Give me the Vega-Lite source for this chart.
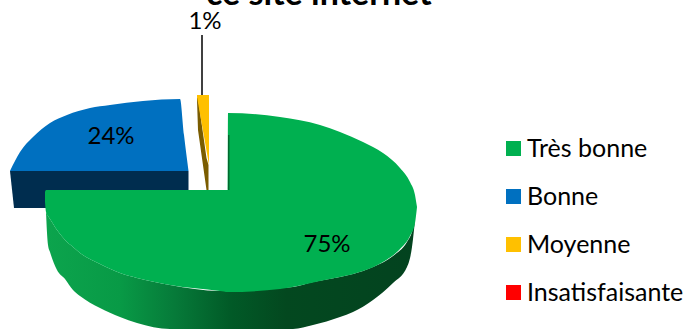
{
  "$schema": "https://vega.github.io/schema/vega-lite/v6.json",
  "width": 686,
  "height": 329,
  "autosize": "none",
  "padding": 0,
  "background": "white",
  "config": {"view": {"stroke": null}, "font": "Lato"},
  "datasets": {
    "heading": [
      {"label": "ce site internet", "x": -22, "y": 185}
    ],
    "slices": [
      {"slice": "Très bonne", "share": 0.75, "x": 99, "y": -55},
      {"slice": "Bonne", "share": 0.24, "x": -117, "y": 53},
      {"slice": "Moyenne", "share": 0.01, "x": -23, "y": 168},
      {"slice": "Insatisfaisante", "share": 0}
    ],
    "tops": [
      {"slice": "Bonne", "x": -218, "y": 19, "y2": 19},
      {"slice": "Bonne", "x": -208, "y": 38, "y2": 19},
      {"slice": "Bonne", "x": -195, "y": 53, "y2": 19},
      {"slice": "Bonne", "x": -178, "y": 67, "y2": 19},
      {"slice": "Bonne", "x": -161, "y": 75, "y2": 19},
      {"slice": "Bonne", "x": -138, "y": 82, "y2": 19},
      {"slice": "Bonne", "x": -118, "y": 85, "y2": 19},
      {"slice": "Bonne", "x": -85, "y": 89, "y2": 19},
      {"slice": "Bonne", "x": -48, "y": 91, "y2": 19},
      {"slice": "Bonne", "x": -44, "y": 55, "y2": 19},
      {"slice": "Bonne", "x": -39.5, "y": 19, "y2": 19},
      {"slice": "Moyenne", "x": -31, "y": 95, "y2": 93},
      {"slice": "Moyenne", "x": -19, "y": 95, "y2": 25},
      {"slice": "Très bonne", "x": -183, "y": -2, "y2": -12},
      {"slice": "Très bonne", "x": -182, "y": 0, "y2": -22},
      {"slice": "Très bonne", "x": -180, "y": 0, "y2": -26},
      {"slice": "Très bonne", "x": -178, "y": 0, "y2": -29},
      {"slice": "Très bonne", "x": -171, "y": 0, "y2": -40},
      {"slice": "Très bonne", "x": -163, "y": 0, "y2": -50},
      {"slice": "Très bonne", "x": -155, "y": 0, "y2": -57},
      {"slice": "Très bonne", "x": -148, "y": 0, "y2": -63},
      {"slice": "Très bonne", "x": -128, "y": 0, "y2": -74},
      {"slice": "Très bonne", "x": -108, "y": 0, "y2": -83},
      {"slice": "Très bonne", "x": -91, "y": 0, "y2": -88},
      {"slice": "Très bonne", "x": -58, "y": 0, "y2": -95},
      {"slice": "Très bonne", "x": -8, "y": 0, "y2": -101},
      {"slice": "Très bonne", "x": -0.1, "y": 0, "y2": -102},
      {"slice": "Très bonne", "x": 0, "y": 77, "y2": -102},
      {"slice": "Très bonne", "x": 52, "y": 73, "y2": -99},
      {"slice": "Très bonne", "x": 92, "y": 65, "y2": -91},
      {"slice": "Très bonne", "x": 112, "y": 58, "y2": -87},
      {"slice": "Très bonne", "x": 135, "y": 48, "y2": -81},
      {"slice": "Très bonne", "x": 155, "y": 37, "y2": -72},
      {"slice": "Très bonne", "x": 172, "y": 22, "y2": -59},
      {"slice": "Très bonne", "x": 182, "y": 8, "y2": -46},
      {"slice": "Très bonne", "x": 187, "y": -5, "y2": -33},
      {"slice": "Très bonne", "x": 189, "y": -17, "y2": -17}
    ],
    "walls": [
      {"part": "Bonne", "x": -218, "y": 19, "y2": 19},
      {"part": "Bonne", "x": -214, "y": 19, "y2": -18},
      {"part": "Bonne", "x": -39.5, "y": 19, "y2": -18},
      {"part": "Moyenne", "x": -31, "y": 93, "y2": 90},
      {"part": "Moyenne", "x": -30, "y": 92, "y2": 60},
      {"part": "Moyenne", "x": -21.5, "y": 32, "y2": 0},
      {"part": "Moyenne", "x": -19.5, "y": 25, "y2": 0},
      {"part": "Très bonne", "x": -182, "y": -22, "y2": -22},
      {"part": "Très bonne", "x": -180, "y": -26, "y2": -55},
      {"part": "Très bonne", "x": -178, "y": -29, "y2": -62},
      {"part": "Très bonne", "x": -171, "y": -40, "y2": -80},
      {"part": "Très bonne", "x": -163, "y": -50, "y2": -89},
      {"part": "Très bonne", "x": -155, "y": -57, "y2": -100},
      {"part": "Très bonne", "x": -148, "y": -63, "y2": -106},
      {"part": "Très bonne", "x": -128, "y": -74, "y2": -118},
      {"part": "Très bonne", "x": -108, "y": -83, "y2": -127},
      {"part": "Très bonne", "x": -91, "y": -88, "y2": -133},
      {"part": "Très bonne", "x": -58, "y": -95, "y2": -139},
      {"part": "Très bonne", "x": -8, "y": -101, "y2": -139},
      {"part": "Très bonne", "x": 65, "y": -97, "y2": -139},
      {"part": "Très bonne", "x": 85, "y": -92, "y2": -135},
      {"part": "Très bonne", "x": 112, "y": -87, "y2": -127},
      {"part": "Très bonne", "x": 125, "y": -84, "y2": -122},
      {"part": "Très bonne", "x": 145, "y": -77, "y2": -110},
      {"part": "Très bonne", "x": 165, "y": -66, "y2": -93},
      {"part": "Très bonne", "x": 179, "y": -52, "y2": -77},
      {"part": "Très bonne", "x": 184, "y": -42, "y2": -57},
      {"part": "Très bonne", "x": 187, "y": -30, "y2": -30}
    ],
    "lines": [
      {"part": "leader", "x": -26, "y": 155},
      {"part": "leader", "x": -26, "y": 95},
      {"part": "edge", "x": 0.8, "y": 55},
      {"part": "edge", "x": 0.8, "y": 0}
    ]
  },
  "encoding": {
    "x": {"field": "x", "type": "quantitative", "axis": null, "scale": {"domain": [-228, 458], "nice": false, "zero": false}},
    "y": {"field": "y", "type": "quantitative", "axis": null, "stack": null, "scale": {"domain": [-139, 190], "nice": false, "zero": false}}
  },
  "layer": [
    {
      "data": {"name": "heading"},
      "mark": {"type": "text", "font": "Lato", "fontSize": 34, "fontWeight": "bold", "color": "black", "align": "left", "baseline": "alphabetic"},
      "encoding": {"text": {"field": "label"}}
    },
    {
      "data": {"name": "walls"},
      "transform": [{"filter": "datum.part === 'Bonne'"}],
      "mark": {"type": "area", "color": "#002D4F"},
      "encoding": {"y2": {"field": "y2"}}
    },
    {
      "data": {"name": "walls"},
      "transform": [{"filter": "datum.part === 'Moyenne'"}],
      "mark": {"type": "area", "color": "#7A5C00"},
      "encoding": {"y2": {"field": "y2"}}
    },
    {
      "data": {"name": "walls"},
      "transform": [{"filter": "datum.part === 'Très bonne'"}],
      "mark": {
        "type": "area",
        "interpolate": "monotone",
        "color": {
          "gradient": "linear",
          "x1": 0, "x2": 1, "y1": 0, "y2": 0,
          "stops": [
            {"offset": 0, "color": "#0CA44D"},
            {"offset": 0.2, "color": "#089A46"},
            {"offset": 0.35, "color": "#067A39"},
            {"offset": 0.5, "color": "#015A27"},
            {"offset": 0.65, "color": "#03481F"},
            {"offset": 1, "color": "#03431F"}
          ]
        }
      },
      "encoding": {"y2": {"field": "y2"}}
    },
    {
      "data": {"name": "lines"},
      "transform": [{"filter": "datum.part === 'leader'"}],
      "mark": {"type": "line", "color": "black", "strokeWidth": 1.5}
    },
    {
      "data": {"name": "tops"},
      "mark": {"type": "area", "opacity": 1, "interpolate": "monotone"},
      "encoding": {
        "y2": {"field": "y2"},
        "color": {
          "field": "slice",
          "type": "nominal",
          "sort": null,
          "scale": {
            "domain": ["Très bonne", "Bonne", "Moyenne", "Insatisfaisante"],
            "range": ["#00B050", "#0070C0", "#FFC000", "#FF0000"]
          },
          "legend": {
            "title": null,
            "orient": "none",
            "legendX": 501,
            "legendY": 136,
            "symbolType": "square",
            "symbolSize": 225,
            "symbolOpacity": 1,
            "symbolStrokeWidth": 0,
            "labelFont": "Lato",
            "labelFontSize": 25,
            "labelColor": "black",
            "labelLimit": 200,
            "labelOffset": 1,
            "rowPadding": 22,
            "padding": 0
          }
        }
      }
    },
    {
      "data": {"name": "lines"},
      "transform": [{"filter": "datum.part === 'edge'"}],
      "mark": {"type": "line", "color": "#034A22", "strokeWidth": 1}
    },
    {
      "data": {"name": "slices"},
      "transform": [{"filter": "datum.share > 0"}],
      "mark": {"type": "text", "font": "Lato", "fontSize": 24, "color": "black", "align": "center", "baseline": "middle"},
      "encoding": {
        "text": {"field": "share", "type": "quantitative", "format": ".0%"}
      }
    }
  ]
}
